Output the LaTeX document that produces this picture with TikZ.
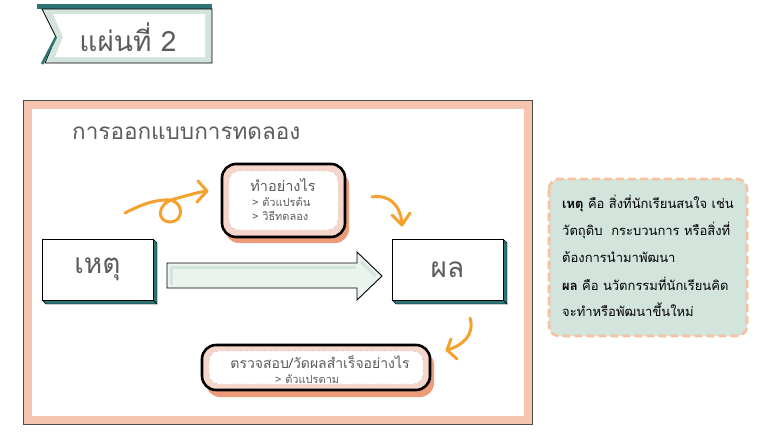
\documentclass[tikz,border=0pt]{standalone}
\usepackage{fontspec}
\newfontfamily\thai[Script=Thai]{Loma}
\usetikzlibrary{arrows.meta}
\definecolor{pinkframe}{HTML}{F7C4B0}
\definecolor{mintfill}{HTML}{D3E4DC}
\definecolor{tealdark}{HTML}{2C7475}
\definecolor{orangearrow}{HTML}{F4A22D}
\definecolor{salmonshadow}{HTML}{EF9A78}
\definecolor{pinkband}{HTML}{F6D6CA}
\definecolor{graytext}{HTML}{5C5C5C}
\definecolor{dashpeach}{HTML}{F6C2A2}
\tikzset{
  thaitext/.style={inner sep=0pt, text=graytext, font=\thai},
  plainbox/.style={draw=black, line width=0.8pt, fill=white, inner sep=0pt},
  sidefill/.style={fill=tealdark, draw=black, line width=0.4pt},
  cloudline/.style={draw=black, line width=2.6pt, fill=pinkband, rounded corners=14pt},
  cloudinner/.style={draw=black!25, line width=0.4pt, dashed, fill=white, rounded corners=10pt},
  cloudshadow/.style={fill=salmonshadow, rounded corners=14pt},
  swoosh/.style={draw=orangearrow, line width=3pt, line cap=round, line join=round},
  notetext/.style={anchor=base west, inner sep=0pt, font=\thai\fontsize{13}{16}\selectfont, text=black},
}
\begin{document}
\begin{tikzpicture}[x=1pt,y=-1pt]
\useasboundingbox (0,0) rectangle (757,434);
\fill[white] (0,0) rectangle (757,434);

% ---------- banner ----------
\fill[tealdark] (37,4) rectangle (212,9);
\draw[black, fill=mintfill, line width=0.8pt] (42,9) -- (212,9) -- (212,63) -- (45,63) -- (56,37) -- cycle;
\draw[tealdark, line width=2.5pt] (56,37) -- (42,64);
\fill[white] (53,14) -- (205,14) -- (205,57) -- (55,57) -- (63,37) -- cycle;
\node[thaitext, font=\thai\fontsize{28}{30}\selectfont] (banner) at (128,37) {แผ่นที่ 2};

% ---------- main frame ----------
\draw[pinkframe, line width=8pt] (27.5,104.5) rectangle (527.5,419.5);
\draw[black!70, line width=0.6pt] (23,100) rectangle (532,424);
\node[thaitext, anchor=west, font=\thai\fontsize{22.5}{24}\selectfont] (title) at (72,133) {การออกแบบการทดลอง};

% ---------- 3D boxes ----------
\fill[sidefill] (153,239) -- (157,243) -- (157,304) -- (153,300) -- cycle;
\fill[sidefill] (42,300) -- (153,300) -- (157,304) -- (46,304) -- cycle;
\node[plainbox, minimum width=111, minimum height=61] (cause) at (97.5,269.5) {};
\node[thaitext, font=\thai\fontsize{28}{30}\selectfont] (causetxt) at (cause.center) {เหตุ};

\fill[sidefill] (503,239) -- (507,243) -- (507,304) -- (503,300) -- cycle;
\fill[sidefill] (392,300) -- (503,300) -- (507,304) -- (396,304) -- cycle;
\node[plainbox, minimum width=111, minimum height=61] (effect) at (447.5,269.5) {};
\node[thaitext, font=\thai\fontsize{28}{30}\selectfont] (effecttxt) at (effect.center) {ผล};

% ---------- big arrow ----------
\draw[black, line width=0.9pt, fill=mintfill!45, line join=miter]
  (167,263) -- (357,263) -- (357,252) -- (382,276) -- (357,300) -- (357,288) -- (167,288) -- cycle;
\draw[mintfill, line width=3pt] (171,285) -- (171,267) -- (356,267);
\draw[mintfill, line width=3pt] (361,262) -- (376,276);

% ---------- top cloud ----------
\fill[cloudshadow] (225,171) rectangle (349,243);
\draw[cloudline] (222,164) rectangle (345,237);
\draw[cloudinner] (229,171) rectangle (338,230);
\node[thaitext, font=\thai\fontsize{14.5}{16}\selectfont] (how) at (283,185) {ทำอย่างไร};
\node[thaitext, anchor=west, font=\thai\fontsize{11}{12}\selectfont] (iv) at (252,202) {> ตัวแปรต้น};
\node[thaitext, anchor=west, font=\thai\fontsize{11}{12}\selectfont] (method) at (252,216) {> วิธีทดลอง};

% ---------- bottom cloud ----------
\fill[cloudshadow] (206,351) rectangle (434,397);
\draw[cloudline] (202,345) rectangle (430,390);
\draw[cloudinner] (209,351) rectangle (423,384);
\node[thaitext, font=\thai\fontsize{14}{16}\selectfont] (check) at (320,362) {ตรวจสอบ/วัดผลสำเร็จอย่างไร};
\node[thaitext, anchor=west, font=\thai\fontsize{11}{12}\selectfont] (dv) at (275,379) {> ตัวแปรตาม};

% ---------- orange arrows ----------
\coordinate (s1) at (125,213);
\coordinate (t1) at (207,191);
\draw[swoosh] (s1) .. controls (140,205) and (156,199) .. (170,200)
  .. controls (184,202) and (184,222) .. (170,222)
  .. controls (157,222) and (156,204) .. (174,199)
  .. controls (186,196) and (198,192) .. (t1);
\draw[swoosh] (198,181) -- (t1) -- (197,202);

\coordinate (s2) at (372,197);
\coordinate (t2) at (402,225);
\draw[swoosh] (s2) .. controls (390,194) and (401,206) .. (t2);
\draw[swoosh] (392,215) -- (t2) -- (410,213);

\coordinate (s3) at (470,318);
\coordinate (t3) at (447,350);
\draw[swoosh] (s3) .. controls (475,335) and (462,346) .. (t3);
\draw[swoosh] (451,339) -- (t3) -- (457,359);

% ---------- side note ----------
\draw[fill=mintfill, draw=dashpeach, line width=2.6pt, dash pattern=on 8pt off 4pt, rounded corners=10pt] (549,179) rectangle (747,336);
\node[notetext] (n1) at (562,208) {\textbf{เหตุ} คือ สิ่งที่นักเรียนสนใจ เช่น};
\node[notetext] (n2) at (562,235) {วัตถุดิบ\ \ กระบวนการ หรือสิ่งที่};
\node[notetext] (n3) at (562,262) {ต้องการนำมาพัฒนา};
\node[notetext] (n4) at (562,290) {\textbf{ผล} คือ นวัตกรรมที่นักเรียนคิด};
\node[notetext] (n5) at (562,316) {จะทำหรือพัฒนาขึ้นใหม่};
\end{tikzpicture}
\end{document}
